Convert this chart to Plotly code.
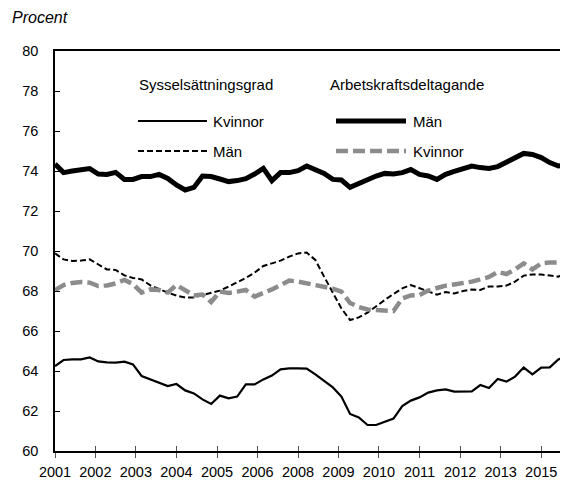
import pandas as pd
import plotly.graph_objects as go

# quarterly, 2001 K1 - 2015 K4
quarters = pd.date_range("2001-01-01", periods=60, freq="QS")

# Arbetskraftsdeltagande, män
akd_man = [74.35, 73.92, 74.0, 74.05, 74.12, 73.85, 73.83, 73.93, 73.58, 73.58,
           73.72, 73.72, 73.83, 73.63, 73.3, 73.05, 73.18, 73.75, 73.72, 73.6,
           73.47, 73.52, 73.62, 73.85, 74.13, 73.52, 73.92, 73.92, 74.02, 74.25,
           74.05, 73.88, 73.58, 73.55, 73.18, 73.38, 73.52, 73.75, 73.88, 73.85,
           73.92, 74.07, 73.83, 73.75, 73.58, 73.83, 73.98, 74.12, 74.25, 74.17,
           74.13, 74.22, 74.43, 74.63, 74.88, 74.83, 74.67, 74.42, 74.25, 74.3]

# Sysselsättningsgrad, män
syss_man = [69.88, 69.58, 69.5, 69.52, 69.58, 69.35, 69.08, 69.05, 68.78, 68.65,
            68.58, 68.28, 68.08, 67.92, 67.77, 67.67, 67.68, 67.78, 67.88, 68.02,
            68.22, 68.42, 68.65, 68.92, 69.25, 69.38, 69.52, 69.72, 69.88, 69.92,
            69.55, 68.72, 67.92, 67.13, 66.55, 66.68, 66.92, 67.25, 67.55, 67.85,
            68.13, 68.3, 68.13, 67.98, 67.82, 67.95, 67.88, 68.0, 68.08, 68.05,
            68.23, 68.22, 68.27, 68.47, 68.77, 68.83, 68.82, 68.77, 68.72, 68.92]

# Arbetskraftsdeltagande, kvinnor
akd_kvinnor = [68.05, 68.3, 68.4, 68.45, 68.42, 68.25, 68.28, 68.38, 68.55, 68.35,
               67.92, 68.08, 68.05, 67.92, 68.3, 68.02, 67.78, 67.82, 67.45, 67.97,
               67.9, 67.97, 68.05, 67.72, 67.88, 68.08, 68.3, 68.52, 68.47, 68.38,
               68.3, 68.22, 68.12, 67.97, 67.4, 67.2, 67.08, 67.05, 67.05, 67.0,
               67.63, 67.78, 67.8, 68.02, 68.15, 68.27, 68.33, 68.38, 68.47, 68.58,
               68.7, 68.95, 68.85, 69.08, 69.38, 69.08, 69.38, 69.42, 69.42, 69.63]

# Sysselsättningsgrad, kvinnor
syss_kvinnor = [64.25, 64.55, 64.58, 64.58, 64.68, 64.48, 64.43, 64.42, 64.47, 64.33,
                63.75, 63.58, 63.45, 63.25, 63.35, 63.03, 62.88, 62.58, 62.35, 62.77,
                62.63, 62.72, 63.33, 63.33, 63.58, 63.77, 64.08, 64.13, 64.13, 64.12,
                63.83, 63.52, 63.18, 62.72, 61.85, 61.68, 61.3, 61.3, 61.45, 61.62,
                62.25, 62.52, 62.68, 62.92, 63.03, 63.08, 62.97, 62.97, 62.98, 63.3,
                63.15, 63.6, 63.47, 63.72, 64.17, 63.83, 64.17, 64.18, 64.58, 64.78]

# year labels every 14 months, as in the original
tick_dates = pd.date_range("2001-01-01", periods=13, freq="14MS")
tick_text = [str(d.year) for d in tick_dates]

FONT = "Liberation Sans, Arial, sans-serif"
GREY = "#8c8c8c"

fig = go.Figure()
fig.add_trace(go.Scatter(x=quarters, y=syss_kvinnor, mode="lines",
                         line=dict(color="black", width=2.2), name="Sysselsättningsgrad Kvinnor"))
fig.add_trace(go.Scatter(x=quarters, y=syss_man, mode="lines",
                         line=dict(color="black", width=2, dash="6px,3px"), name="Sysselsättningsgrad Män"))
fig.add_trace(go.Scatter(x=quarters, y=akd_kvinnor, mode="lines",
                         line=dict(color=GREY, width=4.5, dash="12px,5px"), name="Arbetskraftsdeltagande Kvinnor"))
fig.add_trace(go.Scatter(x=quarters, y=akd_man, mode="lines",
                         line=dict(color="black", width=5), name="Arbetskraftsdeltagande Män"))

# the same x axis again, to get tick marks that cross the axis line
fig.add_trace(go.Scatter(x=quarters, y=akd_man, xaxis="x2", mode="lines",
                         line=dict(width=0), hoverinfo="skip", showlegend=False))

x_range = ["2001-01-01", "2015-10-10"]

# page has an 8px body margin; positions below are in window pixels
def px_x(p):
    return (p - 55) / 513

def px_y(p):
    return (451 - p) / 400

annotations = [
    dict(text="<i>Procent</i>", x=px_x(10), y=px_y(18), font=dict(family=FONT, size=16, color="black")),
    dict(text="Sysselsättningsgrad", x=px_x(137), y=px_y(84)),
    dict(text="Arbetskraftsdeltagande", x=px_x(328), y=px_y(84)),
    dict(text="Kvinnor", x=px_x(211), y=px_y(121)),
    dict(text="Män", x=px_x(211), y=px_y(151)),
    dict(text="Män", x=px_x(411), y=px_y(121)),
    dict(text="Kvinnor", x=px_x(411), y=px_y(151)),
]
for a in annotations:
    a.update(xref="paper", yref="paper", xanchor="left", yanchor="middle", showarrow=False)
    a.setdefault("font", dict(family=FONT, size=15, color="black"))

legend_lines = [
    (138, 207, 121, dict(color="black", width=2.2)),
    (138, 207, 151, dict(color="black", width=2, dash="6px,3px")),
    (336, 406, 121, dict(color="black", width=5)),
    (336, 406, 151, dict(color=GREY, width=4.5, dash="12px,5px")),
]
shapes = [dict(type="line", xref="paper", yref="paper", x0=px_x(a), x1=px_x(b),
               y0=px_y(y), y1=px_y(y), line=ln) for a, b, y, ln in legend_lines]

fig.update_layout(
    width=560, height=476,
    margin=dict(l=47, r=0, t=43, b=33),
    plot_bgcolor="white", paper_bgcolor="white",
    showlegend=False,
    font=dict(family=FONT, size=14.5, color="black"),
    annotations=annotations,
    shapes=shapes,
    xaxis=dict(range=x_range, tickmode="array", tickvals=tick_dates, ticktext=tick_text,
               showgrid=False, zeroline=False, showline=True, linecolor="black", linewidth=1.5,
               mirror=True, ticks="outside", ticklen=5, tickwidth=1.2, tickcolor="#555",
               tickangle=0, ticklabelstandoff=2, tickfont=dict(family=FONT, size=14.5)),
    xaxis2=dict(range=x_range, overlaying="x", side="bottom", tickmode="array",
                tickvals=tick_dates, ticktext=tick_text, showticklabels=False,
                showgrid=False, zeroline=False, showline=False,
                ticks="inside", ticklen=5, tickwidth=1.2, tickcolor="#555"),
    yaxis=dict(range=[60, 80], dtick=2, showgrid=False, zeroline=False,
               showline=True, linecolor="black", linewidth=1.5,
               ticks="inside", ticklen=5, tickwidth=1.2, tickcolor="black",
               ticklabelstandoff=12, tickfont=dict(family=FONT, size=14.5)),
)

fig.write_html("out.html")
